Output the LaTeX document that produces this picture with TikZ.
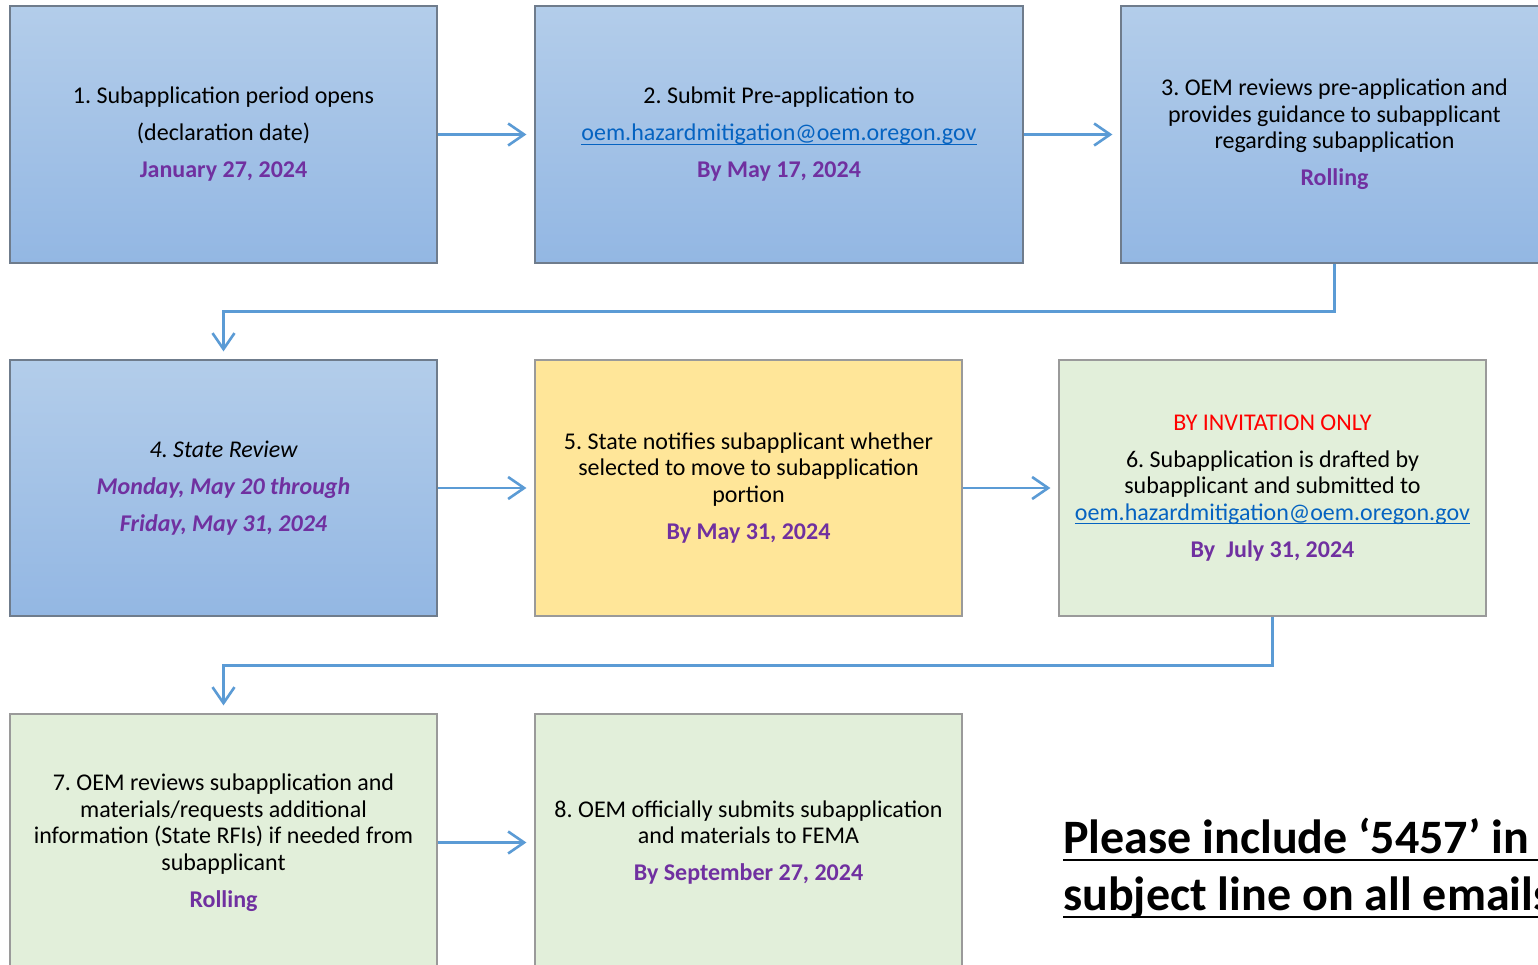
\documentclass[tikz,border=0pt]{standalone}
\usepackage{fontspec}
\setmainfont{Carlito}
\usetikzlibrary{arrows.meta}
\frenchspacing
\definecolor{bluetop}{HTML}{B3CDEA}
\definecolor{bluebot}{HTML}{93B7E3}
\definecolor{blueedge}{HTML}{6F7C8C}
\definecolor{yellowfill}{HTML}{FFE699}
\definecolor{greenfill}{HTML}{E2EFDA}
\definecolor{lightedge}{HTML}{9A9A9A}
\definecolor{arrowblue}{HTML}{5B9BD5}
\definecolor{datepurple}{HTML}{7030A0}
\definecolor{linkblue}{HTML}{0563C1}
\newsavebox{\mylinkbox}
\newcommand{\dateline}[1]{\textbf{\textcolor{datepurple}{#1}}}
\newcommand{\myunder}[1]{\sbox{\mylinkbox}{#1}\rlap{\rule[-4pt]{\wd\mylinkbox}{1.3pt}}\usebox{\mylinkbox}}
\newcommand{\maillink}{\textcolor{linkblue}{\myunder{oem.hazardmitigation@oem.oregon.gov}}}
\tikzset{
  boxbase/.style={rectangle, align=center, inner sep=0pt,
    font=\fontsize{24}{26.5}\selectfont\frenchspacing, line width=1.2pt},
  bluebox/.style={boxbase, draw=blueedge, top color=bluetop, bottom color=bluebot},
  yellowbox/.style={boxbase, draw=lightedge, fill=yellowfill},
  greenbox/.style={boxbase, draw=lightedge, fill=greenfill},
  conn/.style={draw=arrowblue, line width=2.6pt, shorten >=8pt,
    -{Straight Barb[length=16pt,width=22pt,line width=2.6pt]}},
  headline/.style={anchor=base west, inner sep=0pt,
    font=\fontsize{48}{57}\selectfont\bfseries},
  ulrule/.style={line width=2.8pt, draw=black}
}
\begin{document}
\begin{tikzpicture}[x=1pt,y=-1pt]
\useasboundingbox (0,0) rectangle (1538,965);
\clip (0,0) rectangle (1538,965);
\fill[white] (0,0) rectangle (1538,965);

% row 1
\node[bluebox, minimum width=427pt, minimum height=257pt] (b1) at (223.5,134.5)
  {1. Subapplication period opens\\[10.5pt](declaration date)\\[10.5pt]\dateline{January 27, 2024}};
\node[bluebox, minimum width=488pt, minimum height=257pt] (b2) at (779,134.5)
  {2. Submit Pre-application to\\[10.5pt]\maillink\\[10.5pt]\dateline{By May 17, 2024}};
\node[bluebox, minimum width=427pt, minimum height=257pt] (b3) at (1334.5,134.5)
  {3. OEM reviews pre-application and\\provides guidance to subapplicant\\regarding subapplication\\[10.5pt]\dateline{Rolling}};

% row 2
\node[bluebox, minimum width=427pt, minimum height=256pt] (b4) at (223.5,488)
  {\itshape 4. State Review\\[10.5pt]\itshape\dateline{Monday, May 20 through}\\[10.5pt]\itshape\dateline{Friday, May 31, 2024}};
\node[yellowbox, minimum width=427pt, minimum height=256pt] (b5) at (748.5,488)
  {5. State notifies subapplicant whether\\selected to move to subapplication\\portion\\[10.5pt]\dateline{By May 31, 2024}};
\node[greenbox, minimum width=427pt, minimum height=256pt] (b6) at (1272.5,488)
  {\textcolor{red}{BY INVITATION ONLY}\\[10.5pt]6. Subapplication is drafted by\\subapplicant and submitted to\\\maillink\\[10.5pt]\dateline{By\ \ July 31, 2024}};

% row 3
\node[greenbox, minimum width=427pt, minimum height=257pt] (b7) at (223.5,842.5)
  {7. OEM reviews subapplication and\\materials/requests additional\\information (State RFIs) if needed from\\subapplicant\\[10.5pt]\dateline{Rolling}};
\node[greenbox, minimum width=427pt, minimum height=257pt] (b8) at (748.5,842.5)
  {8. OEM officially submits subapplication\\and materials to FEMA\\[10.5pt]\dateline{By September 27, 2024}};

% connectors
\draw[conn] (b1.east) -- (b2.west);
\draw[conn] (b2.east) -- (b3.west);
\draw[conn] (b3.south) -- ++(0,48) -| (b4.north);
\draw[conn] (b4.east) -- (b5.west);
\draw[conn] (b5.east) -- (b6.west);
\draw[conn] (b6.south) -- ++(0,49) -| (b7.north);
\draw[conn] (b7.east) -- (b8.west);

% note
\node[headline] (h1) at (1063,853) {Please include ‘5457’ in};
\node[headline] (h2) at (1063,910) {subject line on all emails};
\draw[ulrule] (h1.base west) ++(0,7) -- (1540,860);
\draw[ulrule] (h2.base west) ++(0,7) -- (1540,917);
\end{tikzpicture}
\end{document}
